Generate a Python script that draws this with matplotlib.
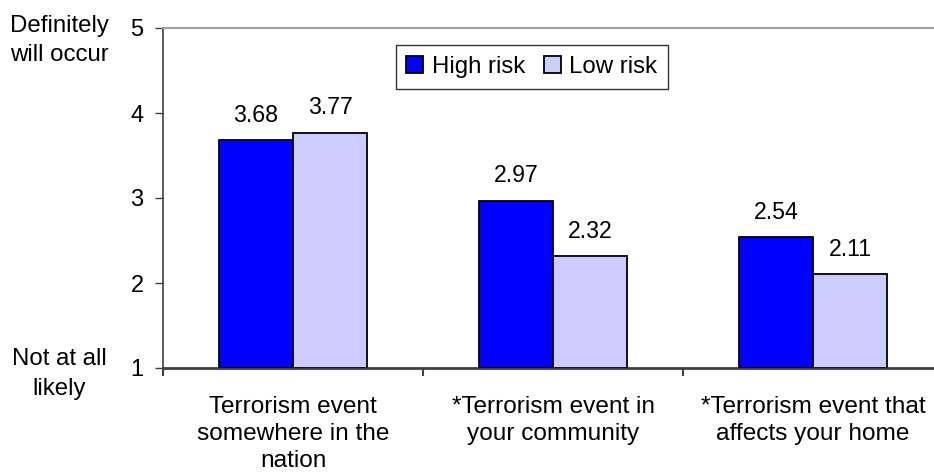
import matplotlib
matplotlib.use("Agg")
import matplotlib.pyplot as plt
import numpy as np

categories = ["Terrorism event\nsomewhere in the\nnation",
              "*Terrorism event in\nyour community",
              "*Terrorism event that\naffects your home"]
high_risk = [3.68, 2.97, 2.54]
low_risk = [3.77, 2.32, 2.11]
series_names = ["High risk", "Low risk"]
yticks = [1, 2, 3, 4, 5]

plt.rcParams['font.family'] = ['Liberation Sans', 'DejaVu Sans']
FS = 17

fig = plt.figure(figsize=(9.34, 4.76), dpi=100)
ax = fig.add_axes([163/934, 108/476, 780/934, 340/476])

x = np.arange(len(categories))
w = 0.2857
b1 = ax.bar(x - w/2, np.array(high_risk) - 1, w, bottom=1, color='#0000FF',
            edgecolor='black', linewidth=1.3, label=series_names[0], zorder=3)
b2 = ax.bar(x + w/2, np.array(low_risk) - 1, w, bottom=1, color='#CCCCFF',
            edgecolor='black', linewidth=1.3, label=series_names[1], zorder=3)

for bars, vals in ((b1, high_risk), (b2, low_risk)):
    for rect, v in zip(bars, vals):
        ax.annotate(f"{v:.2f}", (rect.get_x() + rect.get_width()/2, v),
                    xytext=(0, 13), textcoords='offset points',
                    ha='center', va='baseline', fontsize=FS - 0.3)

ax.set_xlim(-0.5, 2.5)
ax.set_ylim(1, 5)
ax.set_yticks(yticks)
ax.set_yticklabels([str(t) for t in yticks], fontsize=FS)
ax.tick_params(axis='y', length=6, width=1, color='#404040', pad=8)

ax.set_xticks(x)
ax.set_xticklabels(categories, fontsize=FS + 0.6, linespacing=1.3)
ax.tick_params(axis='x', which='major', length=0, pad=20)
ax.set_xticks([-0.5, 0.5, 1.5, 2.5], minor=True)
ax.tick_params(axis='x', which='minor', length=6, width=1.5, color='#404040')

ax.spines['left'].set_color('#404040')
ax.spines['left'].set_linewidth(1.2)
ax.spines['bottom'].set_color('#404040')
ax.spines['bottom'].set_linewidth(2)
ax.spines['top'].set_color('#A0A0A0')
ax.spines['top'].set_linewidth(1.5)
ax.spines['right'].set_visible(False)

leg = ax.legend(loc='center', bbox_to_anchor=(0.473, 0.885), ncol=2,
                fontsize=FS + 0.3, frameon=True, fancybox=False, edgecolor='black',
                handlelength=0.7, handleheight=0.7, handletextpad=0.35,
                columnspacing=0.8, borderpad=0.45, borderaxespad=0)
leg.get_frame().set_linewidth(1)

side_lines = [("Definitely", 32), ("will occur", 61), ("Not at all", 365), ("likely", 395)]
for txt, base in side_lines:
    fig.text(59/934, 1 - base/476, txt, ha='center', va='baseline', fontsize=FS + 0.3)

fig.savefig("out.png", dpi=100)
